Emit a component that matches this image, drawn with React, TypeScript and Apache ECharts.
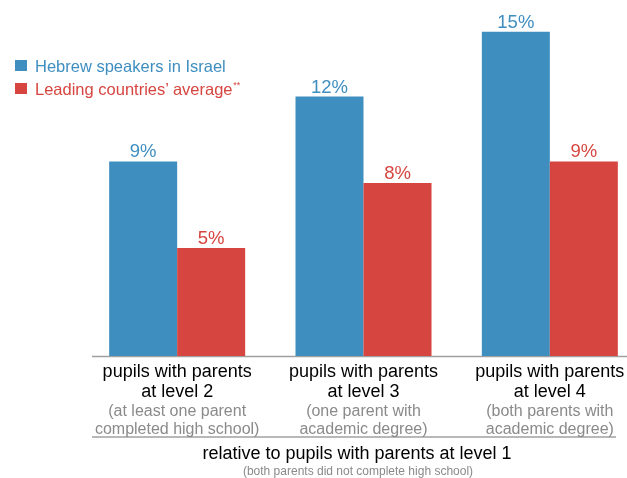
import React, { useEffect, useRef } from "react";
import * as echarts from "echarts";

const categories = [
  "pupils with parents\nat level 2",
  "pupils with parents\nat level 3",
  "pupils with parents\nat level 4",
];
const categoryNotes = [
  "(at least one parent\ncompleted high school)",
  "(one parent with\nacademic degree)",
  "(both parents with\nacademic degree)",
];
const seriesNames = ["Hebrew speakers in Israel", "Leading countries’ average"];
const hebrewValues = [9, 12, 15];
const leadingValues = [5, 8, 9];
const footerTitle = "relative to pupils with parents at level 1";
const footerNote = "(both parents did not complete high school)";

const BLUE = "#3f8ec0";
const RED = "#d6453f";
const FONT = "'Liberation Sans', Arial, Helvetica, sans-serif";

export default function App() {
  const ref = useRef<HTMLDivElement>(null);
  useEffect(() => {
    if (!ref.current) return;
    const chart = echarts.init(ref.current, null, { renderer: "svg" });
    const labelStyle = (color: string) => ({
      show: true,
      position: "top" as const,
      distance: 1,
      color,
      fontSize: 18.5,
      fontFamily: FONT,
      formatter: (p: any) => `${p.value}%`,
    });
    chart.setOption({
      animation: false,
      textStyle: { fontFamily: FONT },
      grid: {
        left: 84,
        right: -16,
        top: 10,
        bottom: 122,
        outerBoundsMode: "none",
        containLabel: false,
      },
      legend: {
        orient: "vertical",
        left: 15,
        top: 57,
        padding: 0,
        itemWidth: 12,
        itemHeight: 11,
        itemGap: 6,
        icon: "rect",
        textStyle: {
          fontSize: 16.5,
          fontFamily: FONT,
          padding: [0, 0, 0, 3],
          rich: {
            s: { fontSize: 9, color: RED, verticalAlign: "top", padding: [0, 0, 6, 0] },
          },
        },
        formatter: (name: string) => (name === seriesNames[1] ? `${name}{s|**}` : name),
        data: [
          { name: seriesNames[0], textStyle: { color: BLUE } },
          { name: seriesNames[1], textStyle: { color: RED } },
        ],
      },
      xAxis: {
        type: "category",
        data: categories,
        axisTick: { show: false },
        axisLine: { show: false },
        axisLabel: {
          interval: 0,
          margin: 5,
          formatter: (v: string, i: number) =>
            v
              .split("\n")
              .map((l) => `{a|${l}}`)
              .join("\n") +
            "\n" +
            categoryNotes[i]
              .split("\n")
              .map((l) => `{b|${l}}`)
              .join("\n"),
          rich: {
            a: { fontSize: 18, lineHeight: 20, color: "#000", fontFamily: FONT },
            b: { fontSize: 16, lineHeight: 18, color: "#8a8a8a", fontFamily: FONT },
          },
        },
      },
      yAxis: {
        type: "value",
        min: 0,
        max: 16,
        show: false,
        splitLine: { show: false },
      },
      series: [
        {
          name: seriesNames[0],
          type: "bar",
          data: hebrewValues,
          barWidth: 68,
          barGap: "0%",
          itemStyle: { color: BLUE },
          label: labelStyle(BLUE),
        },
        {
          name: seriesNames[1],
          type: "bar",
          data: leadingValues,
          barWidth: 68,
          barGap: "0%",
          itemStyle: { color: RED },
          label: labelStyle(RED),
        },
      ],
      graphic: [
        {
          type: "line",
          shape: { x1: 92, y1: 356.5, x2: 627, y2: 356.5 },
          style: { stroke: "#a0a0a0", lineWidth: 1.5 },
        },
        {
          type: "line",
          shape: { x1: 92, y1: 437, x2: 616, y2: 437 },
          style: { stroke: "#a0a0a0", lineWidth: 1.5 },
        },
        {
          type: "text",
          x: 357,
          y: 453,
          style: {
            text: footerTitle,
            fontSize: 18,
            fontFamily: FONT,
            fill: "#000",
            align: "center",
            verticalAlign: "middle",
          },
        },
        {
          type: "text",
          x: 358,
          y: 471,
          style: {
            text: footerNote,
            fontSize: 12,
            fontFamily: FONT,
            fill: "#8a8a8a",
            align: "center",
            verticalAlign: "middle",
          },
        },
      ],
    });
    return () => chart.dispose();
  }, []);
  return (
    <div
      ref={ref}
      style={{ position: "fixed", left: 0, top: 0, width: 627, height: 478 }}
    />
  );
}
